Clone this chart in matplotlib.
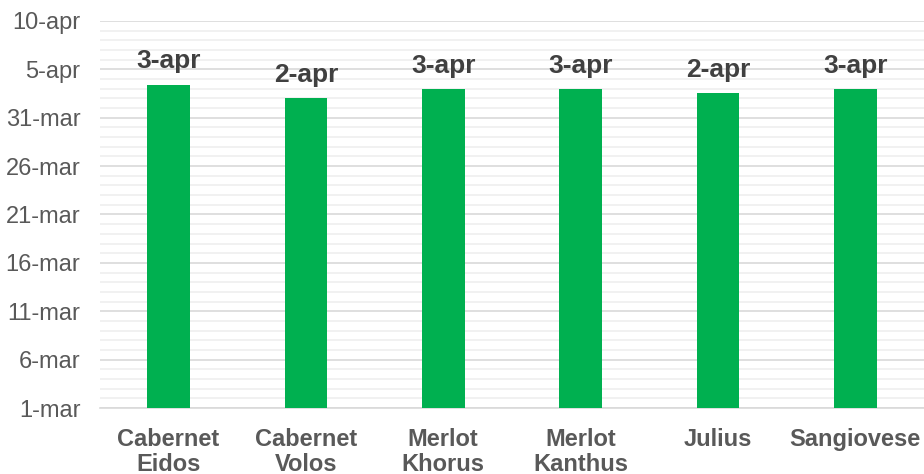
import numpy as np
import pandas as pd
import matplotlib
matplotlib.use("Agg")
import matplotlib.pyplot as plt
import matplotlib.dates as mdates
from matplotlib.ticker import MultipleLocator, FuncFormatter

plt.rcParams['font.family'] = ['Liberation Sans', 'DejaVu Sans']

varieties = ['Cabernet\nEidos', 'Cabernet\nVolos', 'Merlot\nKhorus',
             'Merlot\nKanthus', 'Julius', 'Sangiovese']
dates = ['2023-04-03 10:00', '2023-04-02 00:00', '2023-04-03 00:00',
         '2023-04-03 00:00', '2023-04-02 12:00', '2023-04-03 00:00']
labels = ['3-apr', '2-apr', '3-apr', '3-apr', '2-apr', '3-apr']
axis_start = '2023-03-01'
axis_end = '2023-04-10'

months = {3: 'mar', 4: 'apr'}

base = mdates.date2num(pd.Timestamp(axis_start))
top = mdates.date2num(pd.Timestamp(axis_end))
vals = np.array([mdates.date2num(pd.Timestamp(d)) for d in dates])

fig = plt.figure(figsize=(9.24, 4.74), dpi=100)
ax = fig.add_axes([0.108, 0.139, 0.892, 0.817])

x = np.arange(len(varieties))
ax.bar(x, vals - base, bottom=base, width=0.31, color='#00B050', zorder=3)

for xi, v, lab in zip(x, vals, labels):
    ax.annotate(lab, (xi, v), xytext=(0, 8), textcoords='offset points',
                ha='center', va='bottom', fontsize=19, fontweight='bold',
                color='#404040')

ax.set_xlim(-0.5, len(varieties) - 0.5)
ax.set_ylim(base, top)
ax.yaxis.set_major_locator(MultipleLocator(5, offset=base))
ax.yaxis.set_minor_locator(MultipleLocator(1, offset=base))

def fmt(v, pos):
    d = mdates.num2date(v)
    return f"{d.day}-{months.get(d.month, '')}"

ax.yaxis.set_major_formatter(FuncFormatter(fmt))
ax.grid(axis='y', which='major', color='#d9d9d9', lw=1.2, zorder=0)
ax.grid(axis='y', which='minor', color='#efefef', lw=1.2, zorder=0)

ax.set_xticks(x)
ax.set_xticklabels(varieties, fontsize=17, fontweight='bold', color='#595959',
                   linespacing=1.12)
ax.tick_params(axis='y', which='both', length=0, labelsize=17,
               labelcolor='#595959', pad=14)
ax.tick_params(axis='x', length=0, pad=14)
for s in ['top', 'right', 'left']:
    ax.spines[s].set_visible(False)
ax.spines['bottom'].set_color('#d9d9d9')
ax.spines['bottom'].set_linewidth(1.2)

fig.savefig('out.png', dpi=100)
